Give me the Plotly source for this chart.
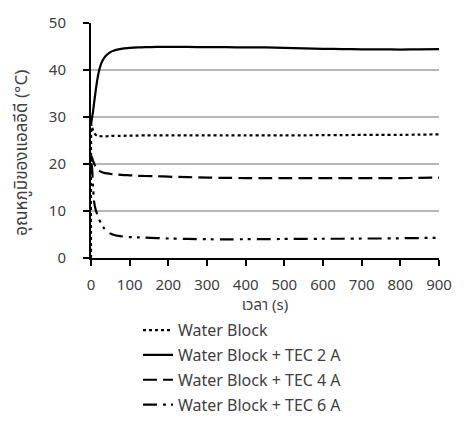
import plotly.graph_objects as go

time_s = [0, 1, 3, 5, 8, 12, 16, 21, 27, 34, 42, 50, 60, 71, 85, 100, 120, 140, 170, 200, 250,
          300, 350, 400, 450, 500, 550, 600, 650, 700, 750, 800, 850, 900]

water_block = [0, 28.5, 27.8, 27.2, 26.6, 26.2, 26.0, 25.95, 25.9, 25.9, 25.9, 25.95, 26.0, 26.0, 26.0, 26.05, 26.05, 26.1, 26.1, 26.1, 26.1,
               26.1, 26.1, 26.1, 26.1, 26.1, 26.1, 26.15, 26.15, 26.2, 26.2, 26.2, 26.25, 26.3]
tec_2a = [28.5, 29.0, 30.0, 31.0, 33.0, 35.5, 37.8, 39.9, 41.5, 42.6, 43.3, 43.8, 44.15, 44.4, 44.6, 44.7, 44.8, 44.85, 44.9, 44.9, 44.9,
          44.85, 44.85, 44.8, 44.8, 44.7, 44.6, 44.5, 44.45, 44.4, 44.4, 44.35, 44.4, 44.45]
tec_4a = [21.0, 21.7, 21.3, 20.7, 20.1, 19.4, 19.0, 18.6, 18.3, 18.1, 18.0, 17.9, 17.8, 17.75, 17.65, 17.6, 17.5, 17.45, 17.4, 17.3, 17.2,
          17.1, 17.05, 17.0, 17.0, 17.0, 17.0, 17.0, 17.0, 17.0, 17.0, 17.0, 17.05, 17.1]
tec_6a = [20.0, 20.0, 19.0, 15.5, 12.0, 10.3, 9.3, 8.2, 7.2, 6.3, 5.6, 5.2, 4.9, 4.7, 4.55, 4.45, 4.4, 4.35, 4.25, 4.15, 4.05,
          4.0, 3.95, 4.0, 4.0, 4.05, 4.05, 4.1, 4.1, 4.15, 4.15, 4.2, 4.25, 4.3]

series_names = ["Water Block", "Water Block + TEC 2 A", "Water Block + TEC 4 A", "Water Block + TEC 6 A"]
series_values = [water_block, tec_2a, tec_4a, tec_6a]
dashes = ["dot", "solid", "14px,6px", "14px,6px,3px,5px,3px,6px"]

x_ticks = [0, 100, 200, 300, 400, 500, 600, 700, 800, 900]
y_ticks = [0, 10, 20, 30, 40, 50]
x_title = "เวลา (s)"
y_title = "อุณหภูมิของแอลอีดี (°C)"

fig = go.Figure()
for i, (name, vals, d) in enumerate(zip(series_names, series_values, dashes)):
    fig.add_trace(go.Scatter(
        x=time_s, y=vals, mode="lines", name=name, legendgroup=f"g{i}",
        line=dict(color="black", width=2.2, dash=d, shape="spline", smoothing=0.4),
    ))

font_family = "Noto Sans, Noto Sans Thai, sans-serif"
fig.update_layout(
    width=464, height=436, autosize=False,
    margin=dict(l=91, r=14, t=21, b=178),
    plot_bgcolor="white", paper_bgcolor="white",
    font=dict(family=font_family, size=15, color="#404040"),
    showlegend=True,
    legend=dict(orientation="v", x=0.135, y=-0.235, xanchor="left", yanchor="top",
                font=dict(size=16, color="#404040"), tracegroupgap=1,
                bgcolor="rgba(0,0,0,0)"),
    xaxis=dict(range=[0, 900], tickvals=x_ticks, ticks="outside", ticklen=6, tickwidth=2,
               tickcolor="black", showline=True, linecolor="black", linewidth=2,
               ticklabelstandoff=6,
               showgrid=False, zeroline=False,
               title=dict(text=x_title, standoff=2, font=dict(size=15, color="#404040"))),
    yaxis=dict(range=[0, 50], tickvals=y_ticks, ticks="outside", ticklen=6, tickwidth=2,
               tickcolor="black", showline=True, linecolor="black", linewidth=2,
               ticklabelstandoff=14,
               showgrid=True, gridcolor="#b8b8b8", gridwidth=1.5, zeroline=False),
    annotations=[dict(text=y_title, textangle=-90, xref="paper", yref="paper",
                      x=-0.2, y=0.45, xanchor="center", yanchor="middle",
                      showarrow=False, font=dict(size=17, color="#404040"))],
)

fig.write_html("out.html")
